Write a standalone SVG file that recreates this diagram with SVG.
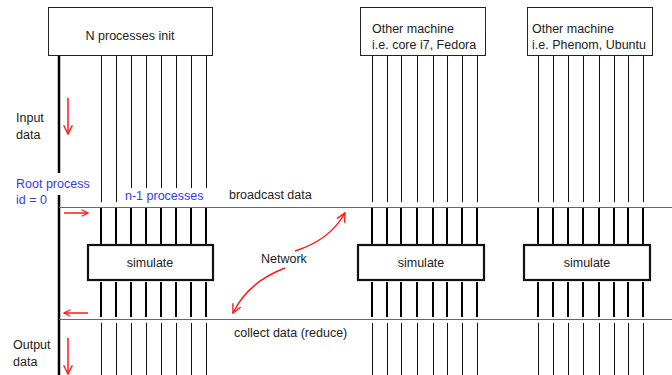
<svg xmlns="http://www.w3.org/2000/svg" width="672" height="375" viewBox="0 0 672 375">
<defs>
<style>
text{font-family:"Liberation Sans",Arial,sans-serif;font-size:12.5px;fill:#222}
.blue{fill:#3538f2}
.box{fill:#fff;stroke:#222;stroke-width:1}
.sim{fill:#fff;stroke:#111;stroke-width:2.2}
.thin{stroke:#111;stroke-width:1;fill:none}
.thick{stroke:#000;stroke-width:2;fill:none}
.root{stroke:#000;stroke-width:2.5;fill:none}
.net{stroke:#d03a3a;stroke-width:1;fill:none}
.red{stroke:#ff1a1a;stroke-width:1.5;fill:none}
</style>
<marker id="ah" viewBox="0 0 10 10" refX="9" refY="5" markerWidth="8" markerHeight="8" orient="auto" markerUnits="userSpaceOnUse">
<path d="M1,1 L9,5 L1,9" fill="none" stroke="#ff1a1a" stroke-width="1.5"/>
</marker>
<marker id="ahb" viewBox="0 0 10 10" refX="9" refY="5" markerWidth="11" markerHeight="11" orient="auto" markerUnits="userSpaceOnUse">
<path d="M1,1 L9,5 L1,9" fill="none" stroke="#ff1a1a" stroke-width="1.3"/>
</marker>
</defs>
<rect width="672" height="375" fill="#fff"/>

<g id="connectors">
<path class="root" d="M59,55V173M59,195V375"/>
<path class="thin" d="M101.5,55V202M116.5,55V202M131.5,55V188M146.5,55V188M161.5,55V188M176.5,55V188M191.5,55V188M206.5,55V188"/>
<path class="thick" d="M101,208V245M116,208V245M131,208V245M146,208V245M161,208V245M176,208V245M191,208V245M206,208V245"/>
<path class="thick" d="M101,282V317M116,282V317M131,282V317M146,282V317M161,282V317M176,282V317M191,282V317M206,282V317"/>
<path class="thin" d="M101.5,323V375M116.5,323V375M131.5,323V375M146.5,323V375M161.5,323V375M176.5,323V375M191.5,323V375M206.5,323V375"/>
<path class="thin" d="M372.5,56V202M387.5,56V202M401.5,56V202M417.5,56V202M433.5,56V202M447.5,56V202M462.5,56V202M477.5,56V202"/>
<path class="thick" d="M372,208V245M387,208V245M401,208V245M417,208V245M433,208V245M447,208V245M462,208V245M477,208V245"/>
<path class="thick" d="M372,282V317M387,282V317M401,282V317M417,282V317M433,282V317M447,282V317M462,282V317M477,282V317"/>
<path class="thin" d="M372.5,323V375M387.5,323V375M401.5,323V375M417.5,323V375M433.5,323V375M447.5,323V375M462.5,323V375M477.5,323V375"/>
<path class="thin" d="M538.5,56V202M553.5,56V202M568.5,56V202M583.5,56V202M599.5,56V202M614.5,56V202M628.5,56V202M643.5,56V202"/>
<path class="thick" d="M538,208V245M553,208V245M568,208V245M583,208V245M599,208V245M614,208V245M628,208V245M643,208V245"/>
<path class="thick" d="M538,282V317M553,282V317M568,282V317M583,282V317M599,282V317M614,282V317M628,282V317M643,282V317"/>
<path class="thin" d="M538.5,323V375M553.5,323V375M568.5,323V375M583.5,323V375M599.5,323V375M614.5,323V375M628.5,323V375M643.5,323V375"/>
<path class="net" d="M59,207.5H672M59,319.5H672"/>
<path class="red" d="M68,98V134" marker-end="url(#ahb)"/>
<path class="red" d="M68,338V374" marker-end="url(#ahb)"/>
<path class="red" d="M64,213H88" marker-end="url(#ah)"/>
<path class="red" d="M88,313H64" marker-end="url(#ah)"/>
<path class="red" d="M295,251Q330,240 345,213" marker-end="url(#ahb)" stroke-width="1.2"/>
<path class="red" d="M285,268Q248,282 233,313" marker-end="url(#ahb)" stroke-width="1.2"/>
</g>

<g id="node-init">
<rect class="box" x="48.5" y="7.5" width="164" height="48"/>
<text x="130" y="40" text-anchor="middle">N processes init</text>
</g>
<g id="node-machine2">
<rect class="box" x="360.5" y="7.5" width="125" height="48"/>
<text x="372" y="33">Other machine</text>
<text x="372" y="49">i.e. core i7, Fedora</text>
</g>
<g id="node-machine3">
<rect class="box" x="527.5" y="7.5" width="125" height="48"/>
<text x="532" y="33">Other machine</text>
<text x="532" y="49">i.e. Phenom, Ubuntu</text>
</g>
<g id="node-sim1">
<rect class="sim" x="88" y="245" width="125" height="35"/>
<text x="150" y="267" text-anchor="middle">simulate</text>
</g>
<g id="node-sim2">
<rect class="sim" x="358" y="245" width="126" height="35"/>
<text x="421" y="267" text-anchor="middle">simulate</text>
</g>
<g id="node-sim3">
<rect class="sim" x="524" y="245" width="126" height="35"/>
<text x="587" y="267" text-anchor="middle">simulate</text>
</g>

<g id="labels">
<text x="16" y="122">Input</text>
<text x="16" y="139">data</text>
<text class="blue" x="16" y="188">Root process</text>
<text class="blue" x="16" y="204">id = 0</text>
<text class="blue" x="125" y="200">n-1 processes</text>
<text x="229" y="199">broadcast data</text>
<text x="261" y="263">Network</text>
<text x="234" y="337">collect data (reduce)</text>
<text x="13" y="349">Output</text>
<text x="13" y="366">data</text>
</g>
</svg>
